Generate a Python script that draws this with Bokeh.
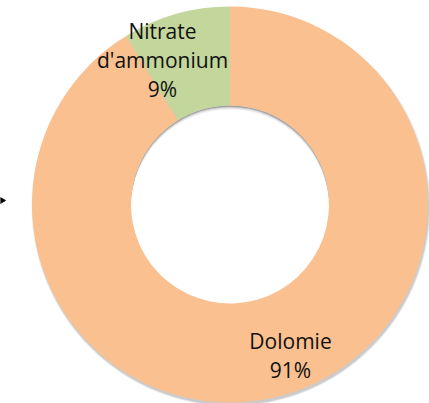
import math
from bokeh.plotting import figure
from bokeh.models import Range1d, ColumnDataSource
from bokeh.core.properties import value
from bokeh.embed import file_html
from bokeh.resources import INLINE

# ---- data ----
categories = ["Dolomie", "Nitrate d'ammonium"]
shares = [91.2, 8.8]
colors = ["#FAC090", "#C3D69B"]

W, H = 429, 403
p = figure(width=W, height=H, output_backend="svg", toolbar_location=None,
           x_range=Range1d(0, W), y_range=Range1d(0, H), min_border=0)
p.axis.visible = False
p.grid.visible = False
p.outline_line_color = None
p.background_fill_color = "white"
p.border_fill_color = "white"

cx, cy = 229.5, H - 204.0
r_out, r_in = 198.0, 99.0

# outer soft shadow (down-right)
for rr, a in [(199.5, 0.10), (198.8, 0.15), (198.0, 0.22)]:
    p.circle(x=[cx + 1.0], y=[cy - 2.5], radius=rr, fill_color="#808080",
             fill_alpha=a, line_color=None)

# inner shadow in the hole (top crescent)
p.circle(x=[cx], y=[cy], radius=r_in, fill_color="#a0a0a0", line_color=None)
for off, a in [(1.2, 0.45), (2.2, 0.5), (3.2, 0.6), (4.2, 1.0)]:
    p.circle(x=[cx], y=[cy - off], radius=r_in, fill_color="white",
             fill_alpha=a, line_color=None)

# wedges: start at top, go clockwise
total = sum(shares)
starts, ends = [], []
acc = 0.0
for s in shares:
    starts.append(math.pi / 2 - 2 * math.pi * acc / total)
    acc += s
    ends.append(math.pi / 2 - 2 * math.pi * acc / total)

src = ColumnDataSource(dict(start=starts, end=ends, color=colors,
                            x=[cx] * len(shares), y=[cy] * len(shares)))
p.annular_wedge(x="x", y="y", inner_radius=r_in, outer_radius=r_out,
                start_angle="start", end_angle="end", direction="clock",
                fill_color="color", line_color=None, source=src)

# small arrowhead at the left edge
p.scatter(x=[1.5], y=[H - 200.0], marker="triangle", size=6, angle=-math.pi / 2,
          fill_color="black", line_color="black")

# labels
label_anchor = {"Dolomie": (290.0, H - 340.0), "Nitrate d'ammonium": (162.0, H - 30.0)}
line_gap = 29.0
tx, ty, tt = [], [], []
for name, s in zip(categories, shares):
    lines = name.split(" ") + ["%d%%" % round(100 * s / total)]
    ax, ay = label_anchor[name]
    for i, ln in enumerate(lines):
        tx.append(ax)
        ty.append(ay - i * line_gap)
        tt.append(ln)
p.text(x=tx, y=ty, text=tt, text_align="center", text_baseline="alphabetic",
       text_font=value("Open Sans"), text_font_size="21px", text_color="#111111")

open("out.html", "w").write(file_html(p, INLINE))
